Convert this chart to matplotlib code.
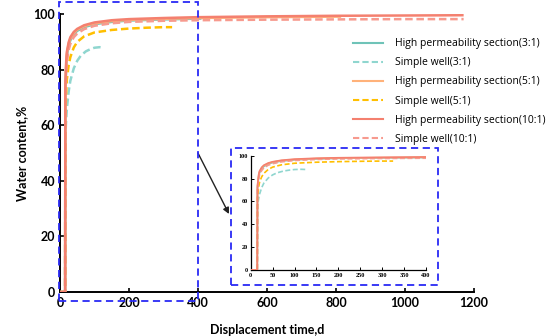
import matplotlib
matplotlib.use("Agg")
import matplotlib.pyplot as plt
from matplotlib.patches import Rectangle
from matplotlib.lines import Line2D

# ---------------- data ----------------
t_hp10 = [0, 15, 15.5, 18, 20, 25, 30, 40, 50, 70, 100, 150, 200, 300, 400, 600, 800, 1000, 1170]
w_hp10 = [0, 0, 74, 83, 86.5, 89.8, 91.7, 93.6, 94.7, 96.0, 97.0, 97.8, 98.2, 98.6, 98.9, 99.2, 99.4, 99.5, 99.6]

t_sw10 = [0, 15, 15.5, 18, 20, 25, 30, 40, 50, 70, 100, 150, 200, 300, 400, 600, 800, 1000, 1170]
w_sw10 = [0, 0, 70, 79, 83, 87, 89.3, 91.7, 93.0, 94.6, 95.8, 96.7, 97.2, 97.6, 97.8, 98.0, 98.1, 98.2, 98.2]

t_hp5 = [0, 15, 15.5, 18, 20, 25, 30, 40, 50, 70, 100, 150, 200, 300, 400, 600, 815]
w_hp5 = [0, 0, 73, 82, 85.8, 89.2, 91.2, 93.2, 94.4, 95.7, 96.7, 97.5, 97.9, 98.3, 98.6, 98.9, 99.1]

t_sw5 = [0, 15, 15.5, 18, 20, 25, 30, 40, 50, 70, 100, 150, 200, 250, 300, 325]
w_sw5 = [0, 0, 63, 72, 76.5, 81.5, 84.5, 88.0, 90.0, 92.0, 93.4, 94.3, 94.8, 95.1, 95.3, 95.3]

t_hp3 = [0, 15, 15.5, 18, 20, 25, 30, 40, 50, 70, 100, 150, 200, 300, 410]
w_hp3 = [0, 0, 72, 81, 85, 88.6, 90.6, 92.8, 94.0, 95.3, 96.4, 97.2, 97.7, 98.1, 98.4]

t_sw3 = [0, 15, 15.5, 18, 20, 25, 30, 40, 50, 60, 75, 90, 100, 115, 128]
w_sw3 = [0, 0, 56, 62, 66, 72, 76, 80.5, 83.2, 85.0, 86.6, 87.5, 87.9, 88.1, 87.9]

labels = ["High permeability section(3:1)", "Simple well(3:1)",
          "High permeability section(5:1)", "Simple well(5:1)",
          "High permeability section(10:1)", "Simple well(10:1)"]

x_ticks = [0, 200, 400, 600, 800, 1000, 1200]
y_ticks = [0, 20, 40, 60, 80, 100]
inset_x_ticks = [0, 50, 100, 150, 200, 250, 300, 350, 400]
inset_y_ticks = [0, 20, 40, 60, 80, 100]

# ---------------- styles ----------------
c_teal_s = "#6fc3b8"
c_teal_d = "#8fd6cf"
c_orange_s = "#ffb27a"
c_yellow_d = "#ffbf00"
c_red_s = "#f4806f"
c_red_d = "#f79a8e"
blue = "#2a2af5"

series = [
    (t_hp3, w_hp3, c_teal_s, "-"),
    (t_sw3, w_sw3, c_teal_d, (0, (3, 1.5))),
    (t_hp5, w_hp5, c_orange_s, "-"),
    (t_sw5, w_sw5, c_yellow_d, (0, (3, 1.5))),
    (t_hp10, w_hp10, c_red_s, "-"),
    (t_sw10, w_sw10, c_red_d, (0, (3, 1.5))),
]
zorders = [2, 3, 2.5, 4, 5, 4.5]

plt.rcParams["font.family"] = ["Lato", "DejaVu Sans"]

fig = plt.figure(figsize=(5.59, 3.36), dpi=100)
ax = fig.add_axes([0.1073, 0.131, 0.7406, 0.827])

for (t, w, c, ls), z in zip(series, zorders):
    ax.plot(t, w, color=c, ls=ls, lw=1.8, zorder=z, solid_capstyle="butt")

ax.set_xlim(0, 1200)
ax.set_ylim(0, 100)
ax.set_xticks(x_ticks)
ax.set_yticks(y_ticks)
for s in ["top", "right"]:
    ax.spines[s].set_visible(False)
for s in ["left", "bottom"]:
    ax.spines[s].set_linewidth(1.4)
ax.tick_params(direction="in", length=3, width=1.2, labelsize=9)
for lab in ax.get_xticklabels() + ax.get_yticklabels():
    lab.set_fontweight("bold")
ax.set_xlabel("Displacement time,d", fontsize=9, fontweight="bold", labelpad=11)
ax.set_ylabel("Water content,%", fontsize=9, fontweight="bold", labelpad=4)

# dashed zoom box on the main axes
ax.add_patch(Rectangle((-3, -3.2), 403, 107.5, fill=False, ec=blue, lw=1.3,
                       ls=(0, (4, 2.5)), clip_on=False, zorder=6))

# legend
handles = [Line2D([], [], color=c, ls=ls, lw=1.5) for (_, _, c, ls) in series]
fig.legend(handles, labels, loc="upper left", bbox_to_anchor=(349 / 559, 1 - 34 / 336),
           frameon=False, prop={"family": "Open Sans", "size": 7.5},
           handlelength=2.9, handletextpad=1.1,
           labelspacing=0.78, borderaxespad=0)

# inset
iax = fig.add_axes([250.7 / 559, 1 - 270 / 336, 175.3 / 559, 114.3 / 336])
for (t, w, c, ls), z in zip(series, zorders):
    iax.plot(t, w, color=c, ls=ls, lw=1.2, zorder=z)
iax.set_xlim(0, 400)
iax.set_ylim(0, 100)
iax.set_xticks(inset_x_ticks)
iax.set_yticks(inset_y_ticks)
for s in ["top", "right"]:
    iax.spines[s].set_visible(False)
for s in ["left", "bottom"]:
    iax.spines[s].set_linewidth(0.9)
iax.tick_params(direction="in", length=2, width=0.7, labelsize=4.5, pad=2)
for lab in iax.get_xticklabels() + iax.get_yticklabels():
    lab.set_fontfamily("Liberation Serif")
    lab.set_fontweight("bold")

fig.patches.append(Rectangle((230.7 / 559, 1 - 285 / 336), (438 - 230.7) / 559, (285 - 148) / 336,
                             transform=fig.transFigure, fill=False, ec=blue, lw=1.3,
                             ls=(0, (4, 2.5)), zorder=6))

# arrow
ax.annotate("", xy=(229 / 559, 1 - 214 / 336), xycoords="figure fraction",
            xytext=(400, 50), textcoords="data",
            arrowprops=dict(arrowstyle="-|>", color="#222222", lw=1.0,
                            mutation_scale=9, shrinkA=0, shrinkB=0))

fig.savefig("out.png", dpi=100)
